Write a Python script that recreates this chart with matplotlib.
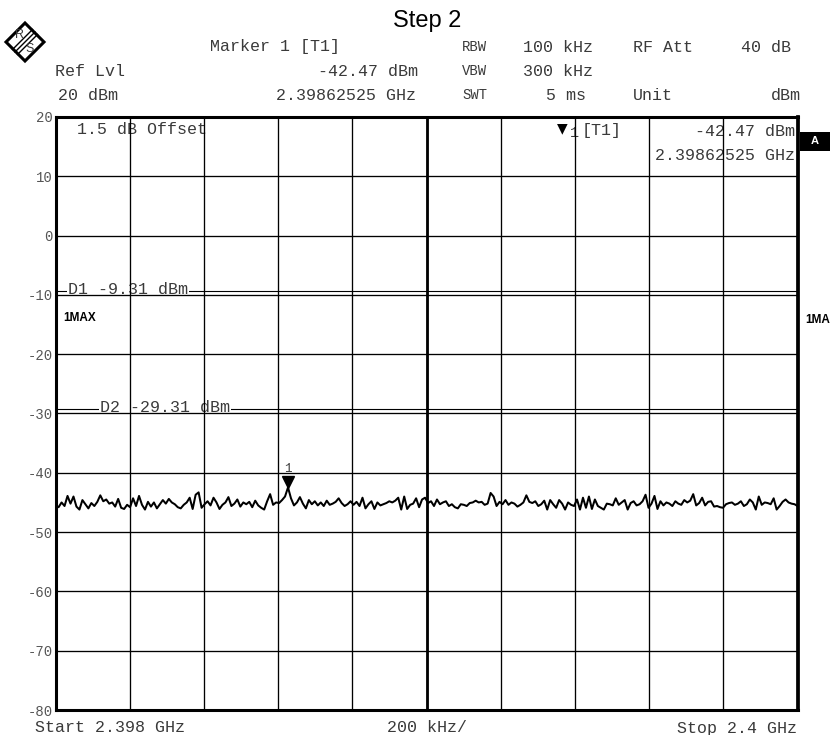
import numpy as np
import matplotlib.pyplot as plt
from matplotlib.patches import Polygon, Rectangle
from matplotlib.transforms import offset_copy

trace_1 = [-45.5, -45.8, -45.0, -45.6, -43.9, -45.2, -44.0, -45.7, -46.2, -44.6,
           -45.3, -46.0, -45.1, -45.6, -44.9, -43.8, -44.8, -44.5, -45.2, -45.0,
           -45.7, -44.4, -45.9, -46.1, -45.4, -45.8, -44.3, -45.6, -43.9, -45.4,
           -46.2, -44.9, -45.7, -45.0, -46.0, -45.3, -44.6, -45.2, -44.4, -45.0,
           -45.3, -45.8, -46.0, -45.4, -45.0, -44.2, -46.1, -43.7, -43.3, -45.9]
trace_2 = [-45.3, -44.8, -45.5, -44.2, -45.0, -46.1, -45.4, -45.0, -44.1, -45.6,
           -45.2, -44.5, -45.7, -45.0, -45.3, -44.9, -45.8, -44.7, -45.5, -45.9,
           -46.2, -44.8, -43.6, -45.4, -45.0, -45.1, -44.6, -44.0, -42.47, -44.3,
           -45.5, -45.0, -44.1, -45.2, -46.0, -44.6, -45.3, -44.8, -45.5, -45.0,
           -45.6, -44.7, -45.4, -45.2, -44.9, -44.3, -45.1, -45.6, -45.3, -44.8]
trace_3 = [-45.4, -44.9, -45.6, -44.2, -46.0, -45.3, -44.8, -46.1, -45.0, -45.5,
           -45.3, -45.1, -44.8, -45.0, -44.7, -44.2, -46.2, -44.0, -46.1, -45.4,
           -45.2, -44.3, -45.8, -44.5, -44.2, -45.1, -44.8, -45.6, -44.5, -45.3,
           -45.0, -44.8, -45.6, -45.3, -45.8, -46.0, -45.3, -45.4, -45.6, -45.1,
           -45.0, -44.7, -45.0, -44.9, -45.4, -45.2, -43.4, -44.0, -45.6, -44.9]
trace_4 = [-45.3, -44.6, -45.4, -45.0, -45.2, -45.7, -45.4, -45.0, -43.8, -44.9,
           -45.1, -44.8, -45.6, -45.3, -44.7, -46.2, -44.6, -45.3, -45.9, -44.6,
           -45.2, -46.2, -45.0, -45.4, -45.6, -44.5, -46.2, -44.2, -45.9, -44.0,
           -46.1, -44.5, -45.6, -45.9, -46.2, -45.2, -45.3, -45.5, -44.3, -45.4,
           -45.0, -44.6, -46.2, -45.1, -44.8, -45.5, -45.3, -44.8, -43.7, -45.9]
trace_5 = [-45.2, -43.9, -46.1, -44.8, -45.5, -45.0, -45.2, -45.6, -44.8, -45.2,
           -45.4, -44.6, -45.0, -44.7, -43.6, -45.5, -45.1, -44.2, -45.5, -44.9,
           -44.8, -45.7, -45.6, -45.8, -45.9, -45.3, -45.1, -45.0, -45.4, -45.2,
           -44.8, -45.6, -45.3, -44.5, -45.0, -46.2, -44.0, -45.4, -45.0, -45.1,
           -45.3, -44.3, -46.2, -45.6, -44.9, -44.5, -45.0, -45.2, -45.3, -45.6]

start_ghz = 2.398
stop_ghz = 2.4
ref_lvl = 20
range_db = 100
d1 = -9.31
d2 = -29.31
y_ticks = list(range(ref_lvl - range_db, ref_lvl + 1, 10))

level = np.array(trace_1 + trace_2 + trace_3 + trace_4 + trace_5)
freq = np.linspace(start_ghz, stop_ghz, len(level))

W, H = 832, 735
mono = 'Liberation Mono'
ink = '#3a3a3a'

fig = plt.figure(figsize=(W / 100, H / 100), dpi=100)
fig.patch.set_facecolor('white')

# plot area in pixels: x 55.6..797.5, y 117..710
ax = fig.add_axes([55.6 / W, 1 - 710 / H, (797.5 - 55.6) / W, (710 - 117) / H])
ax.set_xlim(start_ghz, stop_ghz)
ax.set_ylim(ref_lvl - range_db, ref_lvl)
ax.set_xticks(np.linspace(start_ghz, stop_ghz, 11))
ax.set_xticklabels([])
ax.set_yticks(y_ticks)
ax.set_yticklabels([str(v) for v in y_ticks], family=mono, fontsize=10, color='#555555')
ax.tick_params(length=0, pad=2)
ax.set_axisbelow(False)
ax.grid(True, color='black', linewidth=0.95)
for side in ['left', 'bottom', 'top']:
    ax.spines[side].set_linewidth(2.2)
ax.spines['right'].set_linewidth(2.7)
ax.axvline((start_ghz + stop_ghz) / 2, color='black', linewidth=2.0, zorder=2.6)

# display lines
ax.axhline(d1, color='black', linewidth=0.8, zorder=1)
ax.axhline(d2, color='black', linewidth=0.8, zorder=1)

# trace
ax.plot(freq, level, color='black', linewidth=1.45, zorder=4)

# marker 1 on the peak
im = int(np.argmax(level))
tri = offset_copy(ax.transData, fig=fig, x=0, y=4, units='points')
ax.plot([freq[im]], [level[im]], marker='v', markersize=8, color='black',
        transform=tri, zorder=5, clip_on=False)
ax.annotate('1', xy=(freq[im], level[im]), xytext=(0, 9), textcoords='offset points',
            ha='center', va='bottom', family=mono, fontsize=9, color=ink)


def ftxt(x, y, s, ha='left', size=12, **kw):
    # text at pixel position on the figure
    kw.setdefault('family', mono)
    kw.setdefault('color', ink)
    fig.text(x / W, 1 - y / H, s, ha=ha, va='center', fontsize=size, **kw)


def atxt(x, y, s, ha='left', size=12, **kw):
    # text at pixel position, drawn inside the axes (under the grid)
    kw.setdefault('family', mono)
    kw.setdefault('color', ink)
    ax.text(x / W, 1 - y / H, s, ha=ha, va='center', fontsize=size,
            transform=fig.transFigure, zorder=2, **kw)


# title
ftxt(427, 21, 'Step 2', ha='center', size=17, family='Liberation Sans', color='black')

# header block
ftxt(210, 47, 'Marker 1 [T1]')
ftxt(462, 47, 'RBW', size=10)
ftxt(523, 47, '100 kHz')
ftxt(633, 47, 'RF Att')
ftxt(791, 47, '40 dB', ha='right')
ftxt(55, 71, 'Ref Lvl')
ftxt(418, 71, '-42.47 dBm', ha='right')
ftxt(462, 71, 'VBW', size=10)
ftxt(523, 71, '300 kHz')
ftxt(58, 95, '20 dBm')
ftxt(416, 95, '2.39862525 GHz', ha='right')
ftxt(462, 95, 'SWT', size=10)
ftxt(586, 95, '5 ms', ha='right')
ftxt(633, 95, 'Unit')
ftxt(801, 95, 'dBm', ha='right')

# R&S logo
cx, cy, r = 25, 42, 19
dia = Polygon([((cx - r) / W, 1 - cy / H), (cx / W, 1 - (cy - r) / H),
               ((cx + r) / W, 1 - cy / H), (cx / W, 1 - (cy + r) / H)],
              closed=True, transform=fig.transFigure, facecolor='white',
              edgecolor='black', linewidth=2.2)
fig.patches.append(dia)
for k in (-2.5, 0, 2.5):
    fig.add_artist(plt.Line2D([(cx - 10 + k) / W, (cx + 10 + k) / W],
                              [1 - (cy + 10 + k) / H, 1 - (cy - 10 + k) / H],
                              color='black', linewidth=1.0, transform=fig.transFigure))
ftxt(cx - 5, cy - 7, 'R', ha='center', size=9, family='Liberation Sans')
ftxt(cx + 5, cy + 7, 'S', ha='center', size=9, family='Liberation Sans')

# texts inside the graticule
atxt(77, 130, '1.5 dB Offset')
atxt(562, 128, '\u25bc', ha='center', size=10, family='DejaVu Sans', color='black')
atxt(570, 133, '1', size=11)
atxt(582, 131, '[T1]')
atxt(795, 131, '-42.47 dBm', ha='right')
atxt(795, 155, '2.39862525 GHz', ha='right')
atxt(63, 318, '1MAX', size=8.5, family='Liberation Sans', weight='bold', color='black')
ybox = dict(facecolor='white', edgecolor='none', pad=0.5)
atxt(68, 289, 'D1 -9.31 dBm', bbox=ybox)
atxt(100, 408, 'D2 -29.31 dBm', bbox=ybox)

# right side flags
fig.patches.append(Rectangle((800 / W, 1 - 151 / H), 30 / W, 19 / H,
                             transform=fig.transFigure, facecolor='black', edgecolor='none'))
ftxt(815, 141.5, 'A', ha='center', size=8, family='Liberation Sans', weight='bold', color='white')
ftxt(805, 320, '1MA', size=8.5, family='Liberation Sans', weight='bold', color='black')

# bottom line
ftxt(35, 728, 'Start 2.398 GHz')
ftxt(427, 728, '200 kHz/', ha='center')
ftxt(797, 728, 'Stop 2.4 GHz', ha='right')

fig.savefig('out.png', dpi=100, facecolor='white')
